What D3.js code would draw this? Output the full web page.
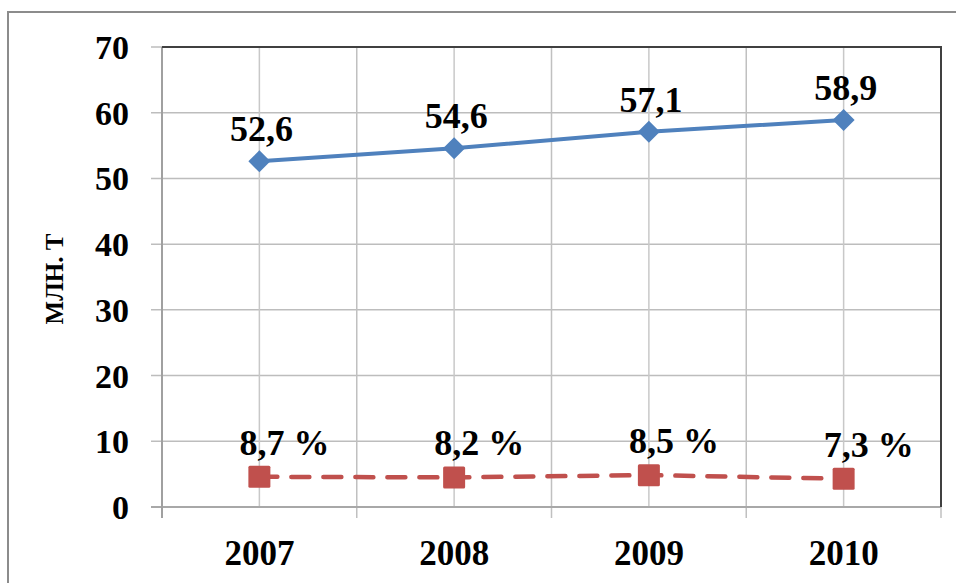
<!DOCTYPE html>
<html><head><meta charset="utf-8">
<script src="https://cdn.jsdelivr.net/npm/d3@7/dist/d3.min.js"></script>
<style>body{margin:0;background:#fff;}svg{display:block;}</style>
</head><body><svg id="c" width="956" height="583"></svg>
<script>
const years = ["2007", "2008", "2009", "2010"];
const volume = [52.6, 54.6, 57.1, 58.9];
const volumeLabels = ["52,6", "54,6", "57,1", "58,9"];
const shareValues = [4.6, 4.5, 4.85, 4.3];
const shareLabels = ["8,7 %", "8,2 %", "8,5 %", "7,3 %"];
const yTicks = [0, 10, 20, 30, 40, 50, 60, 70];
const yTitle = "МЛН. Т";

const svg = d3.select("#c");
const m = {l: 162, t: 47, r: 941, b: 507};
const font = "'Liberation Serif','Times New Roman',serif";

// outer frame
svg.append("rect").attr("x", 8).attr("y", 12).attr("width", 1000).attr("height", 1000)
  .attr("fill", "none").attr("stroke", "#8c8c8c").attr("stroke-width", 2);

const x = d3.scaleBand().domain(years).range([m.l, m.r]);
const y = d3.scaleLinear().domain([0, 70]).range([m.b, m.t]);
const cx = d => x(d) + x.bandwidth() / 2;

// horizontal grid
svg.append("g").selectAll("line").data(yTicks.filter(d => d > 0)).join("line")
  .attr("x1", m.l - 11).attr("x2", m.r).attr("y1", d => y(d)).attr("y2", d => y(d))
  .attr("stroke", "#bdbdbd").attr("stroke-width", 1.5);
// vertical grid at centers
svg.append("g").selectAll("line").data(years).join("line")
  .attr("x1", d => cx(d)).attr("x2", d => cx(d)).attr("y1", m.t).attr("y2", m.b)
  .attr("stroke", "#c8c8c8").attr("stroke-width", 1.5);
// vertical grid at boundaries
const bounds = years.slice(1).map(d => x(d));
svg.append("g").selectAll("line").data(bounds).join("line")
  .attr("x1", d => d).attr("x2", d => d).attr("y1", m.t).attr("y2", m.b + 11)
  .attr("stroke", "#c0c0c0").attr("stroke-width", 1.5);
// zero line and left axis
svg.append("line").attr("x1", m.l - 11).attr("x2", m.r).attr("y1", m.b).attr("y2", m.b)
  .attr("stroke", "#a8a8a8").attr("stroke-width", 2);
svg.append("line").attr("x1", m.l).attr("x2", m.l).attr("y1", m.t).attr("y2", m.b + 11)
  .attr("stroke", "#a0a0a0").attr("stroke-width", 2);
svg.append("line").attr("x1", m.r).attr("x2", m.r).attr("y1", m.b).attr("y2", m.b + 11)
  .attr("stroke", "#c0c0c0").attr("stroke-width", 1.5);
// top & right plot border
svg.append("path").attr("d", `M${m.l},${m.t}H${m.r}V${m.b}`)
  .attr("fill", "none").attr("stroke", "#404040").attr("stroke-width", 2);

// y tick labels
svg.append("g").selectAll("text").data(yTicks).join("text")
  .attr("x", 129).attr("y", d => y(d) + 12).attr("text-anchor", "end")
  .attr("font-family", font).attr("font-weight", "bold").attr("font-size", 34)
  .text(d => d);
// x labels
svg.append("g").selectAll("text").data(years).join("text")
  .attr("x", d => cx(d)).attr("y", 565).attr("text-anchor", "middle")
  .attr("font-family", font).attr("font-weight", "bold").attr("font-size", 35)
  .text(d => d);
// y title
svg.append("text").attr("transform", "translate(63,279) rotate(-90)")
  .attr("text-anchor", "middle").attr("font-family", font).attr("font-weight", "bold")
  .attr("font-size", 25).text(yTitle);

// blue line
const line = d3.line().x((d, i) => cx(years[i])).y(d => y(d));
svg.append("path").attr("d", line(volume)).attr("fill", "none")
  .attr("stroke", "#4f81bd").attr("stroke-width", 4);
svg.append("g").selectAll("path").data(volume).join("path")
  .attr("d", d3.symbol(d3.symbolDiamond2, 310)())
  .attr("transform", (d, i) => `translate(${cx(years[i])},${y(d)})`)
  .attr("fill", "#4f81bd");
// red line
svg.append("path").attr("d", line(shareValues)).attr("fill", "none")
  .attr("stroke", "#c0504d").attr("stroke-width", 4.5).attr("stroke-dasharray", "18,14")
  .attr("stroke-linecap", "round");
svg.append("g").selectAll("rect").data(shareValues).join("rect")
  .attr("x", (d, i) => cx(years[i]) - 11).attr("y", d => y(d) - 11)
  .attr("width", 22).attr("height", 22).attr("rx", 1.5).attr("fill", "#c0504d");

// labels
svg.append("g").selectAll("text").data(volume).join("text")
  .attr("x", (d, i) => cx(years[i]) + 2).attr("y", d => y(d) - 20).attr("text-anchor", "middle")
  .attr("font-family", font).attr("font-weight", "bold").attr("font-size", 36)
  .text((d, i) => volumeLabels[i]);
svg.append("g").selectAll("text").data(shareValues).join("text")
  .attr("x", (d, i) => cx(years[i]) + 25).attr("y", d => y(d) - 22).attr("text-anchor", "middle")
  .attr("font-family", font).attr("font-weight", "bold").attr("font-size", 36)
  .text((d, i) => shareLabels[i]);
</script></body></html>
